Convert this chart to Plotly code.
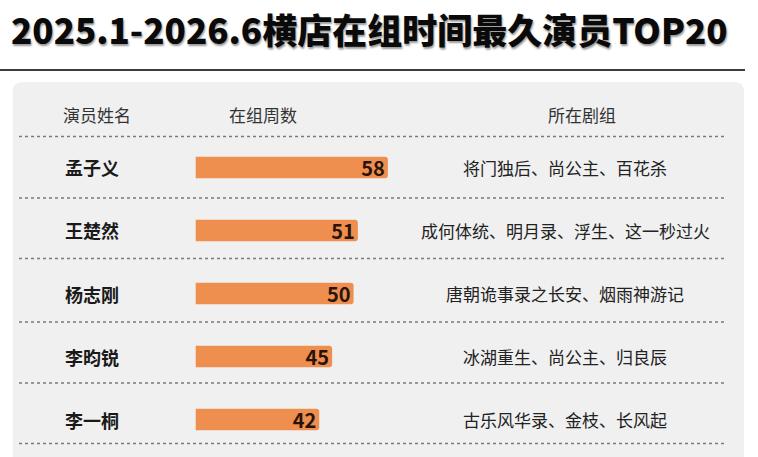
import plotly.graph_objects as go

W, H = 758, 457

names = ["孟子义", "王楚然", "杨志刚", "李昀锐", "李一桐"]
weeks = [58, 51, 50, 45, 42]
dramas = [
    "将门独后、尚公主、百花杀",
    "成何体统、明月录、浮生、这一秒过火",
    "唐朝诡事录之长安、烟雨神游记",
    "冰湖重生、尚公主、归良辰",
    "古乐风华录、金枝、长风起",
]
headers = ["演员姓名", "在组周数", "所在剧组"]
title = "2025.1-2026.6横店在组时间最久演员TOP20"

FONT = "Noto Sans CJK SC"


def px(x):
    return x / W


def py(y):
    return 1 - y / H


fig = go.Figure()

fig.add_trace(go.Bar(
    y=names,
    x=weeks,
    orientation="h",
    marker=dict(color="#ee8f4f", line=dict(width=0)),
    texttemplate="%{x}",
    textposition="inside",
    insidetextanchor="end",
    textangle=0,
    constraintext="none",
    textfont=dict(family=FONT, size=20, color="#2b1309", weight="bold"),
    hoverinfo="skip",
))

# grey panel with rounded top corners
r = 10
x0, x1, y0, y1 = 12.7, 744, 82, 470
panel = (f"M {px(x0)},{py(y1)} L {px(x0)},{py(y0 + r)} "
         f"Q {px(x0)},{py(y0)} {px(x0 + r)},{py(y0)} "
         f"L {px(x1 - r)},{py(y0)} Q {px(x1)},{py(y0)} {px(x1)},{py(y0 + r)} "
         f"L {px(x1)},{py(y1)} Z")
shapes = [
    dict(type="path", path=panel, xref="paper", yref="paper",
         fillcolor="#f0f0f0", line=dict(width=0), layer="below"),
    dict(type="line", xref="paper", yref="paper", x0=0, x1=px(745),
         y0=py(70), y1=py(70), line=dict(color="#3c3c3c", width=2)),
]
for yy in [136.5, 198, 258.5, 322, 383, 443.5]:
    shapes.append(dict(type="line", xref="paper", yref="paper",
                       x0=px(19), x1=px(726), y0=py(yy), y1=py(yy),
                       line=dict(color="#7a7a7a", width=1.5, dash="dot")))

annotations = [dict(text=title, x=px(9), y=py(1), xref="paper", yref="paper",
                    xanchor="left", yanchor="top", showarrow=False,
                    font=dict(family=FONT, size=35, color="#0a0a0a", weight=900,
                              shadow="1px 2px 2px #9a9a9a"))]
for hx, h in zip([97, 263, 582], headers):
    annotations.append(dict(text=h, x=px(hx), y=py(114), xref="paper", yref="paper",
                            xanchor="center", yanchor="middle", showarrow=False,
                            font=dict(family=FONT, size=17, color="#333333")))
for n, d in zip(names, dramas):
    annotations.append(dict(text=n, x=px(92), y=n, xref="paper", yref="y",
                            xanchor="center", yanchor="middle", showarrow=False,
                            font=dict(family=FONT, size=18, color="#1a1a1a", weight="bold")))
    annotations.append(dict(text=d, x=px(565), y=n, xref="paper", yref="y",
                            xanchor="center", yanchor="middle", showarrow=False,
                            font=dict(family=FONT, size=17, color="#222222")))

# axis scale: 4.29 px per week, 13.2 weeks at x=195.7
x_start = 13.2
scale = 4.29
x_right = 420

fig.update_layout(
    width=W, height=H,
    margin=dict(l=0, r=0, t=0, b=0),
    paper_bgcolor="white",
    plot_bgcolor="rgba(0,0,0,0)",
    showlegend=False,
    barcornerradius=3,
    bargap=0.66,
    xaxis=dict(domain=[px(195.7), px(x_right)],
               range=[x_start, x_start + (x_right - 195.7) / scale],
               visible=False, fixedrange=True),
    yaxis=dict(domain=[py(451), py(136)], autorange="reversed",
               visible=False, fixedrange=True),
    shapes=shapes,
    annotations=annotations,
)

fig.write_html("out.html", config=dict(displayModeBar=False),
               post_script="document.body.style.margin='0';")
